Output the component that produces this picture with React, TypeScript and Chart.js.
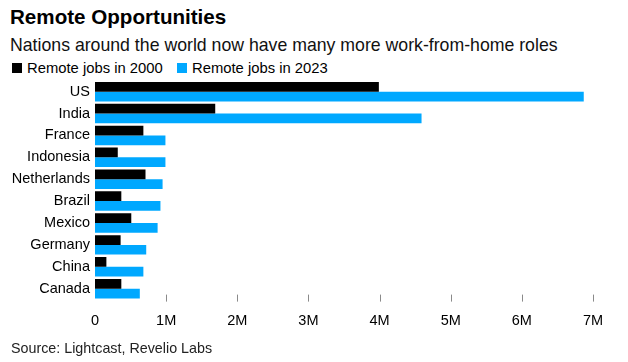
import React, { useEffect, useRef } from "react";
import { Chart, registerables } from "chart.js";

Chart.register(...registerables);

const countries = ["US", "India", "France", "Indonesia", "Netherlands", "Brazil", "Mexico", "Germany", "China", "Canada"];
const jobs2000 = [3990000, 1690000, 680000, 320000, 710000, 370000, 510000, 360000, 160000, 370000];
const jobs2023 = [6870000, 4590000, 990000, 990000, 950000, 920000, 880000, 720000, 680000, 630000];
const seriesNames = ["Remote jobs in 2000", "Remote jobs in 2023"];
const seriesColors = ["#000000", "#00A8FF"];
const xMax = 7000000;
const xStep = 1000000;

const FONT = "'Liberation Sans', Arial, Helvetica, sans-serif";

const tickMarks = {
  id: "tickMarks",
  afterDraw(chart: any) {
    const { ctx, chartArea, scales } = chart;
    const x = scales.x;
    ctx.save();
    ctx.strokeStyle = "#8a8a8a";
    ctx.lineWidth = 1;
    x.ticks.forEach((t: any) => {
      if (t.value === 0) return;
      const px = Math.round(x.getPixelForValue(t.value)) + 0.5;
      ctx.beginPath();
      ctx.moveTo(px, chartArea.bottom - 5);
      ctx.lineTo(px, chartArea.bottom + 2);
      ctx.stroke();
    });
    ctx.restore();
  },
};

export default function App() {
  const ref = useRef<HTMLCanvasElement>(null);
  useEffect(() => {
    if (!ref.current) return;
    const chart = new Chart(ref.current, {
      type: "bar",
      data: {
        labels: countries,
        datasets: [
          { label: seriesNames[0], data: jobs2000, backgroundColor: seriesColors[0], borderWidth: 0 },
          { label: seriesNames[1], data: jobs2023, backgroundColor: seriesColors[1], borderWidth: 0 },
        ],
      },
      options: {
        indexAxis: "y",
        animation: false,
        responsive: false,
        maintainAspectRatio: false,
        datasets: { bar: { barPercentage: 1, categoryPercentage: 0.89 } },
        layout: { padding: { left: 1, right: 35, top: 0, bottom: 7 } },
        plugins: {
          tooltip: { enabled: false },
          legend: { display: false },
        },
        scales: {
          x: {
            min: 0,
            max: xMax,
            border: { display: false },
            grid: { display: false, drawTicks: false },
            ticks: {
              stepSize: xStep,
              padding: 13,
              color: "#000",
              font: { family: FONT, size: 14.5 },
              callback: (v: any) => (v === 0 ? "0" : v / 1000000 + "M"),
            },
          },
          y: {
            border: { display: false },
            grid: { display: false, drawTicks: false },
            afterFit: (scale: any) => {
              scale.width = 94;
            },
            ticks: {
              autoSkip: false,
              padding: 5,
              color: "#000",
              font: { family: FONT, size: 14.5 },
            },
          },
        },
      },
      plugins: [tickMarks],
    });
    return () => chart.destroy();
  }, []);

  const legendItem = (i: number, left: number) => (
    <div key={i} style={{ position: "absolute", left, top: 59, height: 18, display: "flex", alignItems: "center", whiteSpace: "nowrap" }}>
      <span style={{ display: "inline-block", width: 10, height: 10, background: seriesColors[i], marginRight: 5 }} />
      <span style={{ fontSize: 14.8, lineHeight: "18px" }}>{seriesNames[i]}</span>
    </div>
  );

  return (
    <div style={{ position: "absolute", left: 0, top: 0, width: 628, height: 362, background: "#fff", fontFamily: FONT, color: "#000" }}>
      <div style={{ position: "absolute", left: 10, top: 5, fontSize: 20.6, fontWeight: 700, lineHeight: "24px", whiteSpace: "nowrap" }}>Remote Opportunities</div>
      <div style={{ position: "absolute", left: 10, top: 34, fontSize: 17.7, lineHeight: "22px", color: "#111", whiteSpace: "nowrap" }}>Nations around the world now have many more work-from-home roles</div>
      {legendItem(0, 12)}
      {legendItem(1, 177)}
      <div style={{ position: "absolute", left: 0, top: 67 }}>
        <canvas ref={ref} width={628} height={283} style={{ display: "block", width: 628, height: 283 }} />
      </div>
      <div style={{ position: "absolute", left: 11, top: 339, fontSize: 14.3, lineHeight: "18px", color: "#222", whiteSpace: "nowrap" }}>Source: Lightcast, Revelio Labs</div>
    </div>
  );
}
